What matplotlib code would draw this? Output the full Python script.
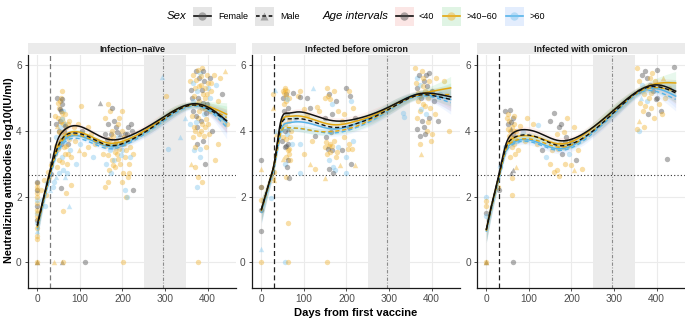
import numpy as np
import matplotlib
matplotlib.use("Agg")
import matplotlib.pyplot as plt
from matplotlib.patches import Rectangle
from matplotlib.lines import Line2D

plt.rcParams['font.family'] = ['Liberation Sans', 'DejaVu Sans']

# ---------------- data ----------------
panel_titles = ['Infection\u2212na\u00efve', 'Infected before omicron', 'Infected with omicron']
age_labels = ['<40', '>40\u221260', '>60']
sex_labels = ['Female', 'Male']
x_ticks = [0, 100, 200, 300, 400]
y_ticks = [0, 2, 4, 6]
second_dose_day = 30
omicron_day = 295
omicron_window = [250, 350]
threshold = 2.64

knot_days = [0, 10, 20, 30, 45, 60, 85, 120, 170, 220, 270, 320, 370, 410, 445]

# Infection-naive fitted curves
naive_F_lt40 = [1.15, 1.72, 2.27, 2.8, 3.62, 3.98, 4.15, 4.02, 3.73, 3.86, 4.2, 4.6, 4.82, 4.65, 4.3]
naive_F_40_60 = [1.1, 1.68, 2.22, 2.75, 3.45, 3.8, 3.97, 3.86, 3.62, 3.78, 4.15, 4.6, 4.8, 4.7, 4.5]
naive_F_gt60 = [1.05, 1.62, 2.15, 2.65, 3.33, 3.68, 3.85, 3.75, 3.52, 3.7, 4.1, 4.55, 4.78, 4.6, 4.25]
naive_M_lt40 = [1.1, 1.68, 2.22, 2.72, 3.4, 3.78, 3.93, 3.82, 3.55, 3.72, 4.1, 4.55, 4.78, 4.6, 4.3]
naive_M_40_60 = [1.05, 1.64, 2.18, 2.68, 3.35, 3.72, 3.88, 3.77, 3.55, 3.72, 4.1, 4.55, 4.78, 4.65, 4.4]
naive_M_gt60 = [1.0, 1.58, 2.1, 2.6, 3.25, 3.6, 3.77, 3.67, 3.45, 3.65, 4.05, 4.5, 4.75, 4.55, 4.1]

# Infected before omicron fitted curves
pre_F_lt40 = [1.6, 2.05, 2.5, 3.0, 4.25, 4.53, 4.57, 4.48, 4.3, 4.35, 4.55, 4.85, 5.12, 5.12, 5.03]
pre_F_40_60 = [1.6, 2.05, 2.5, 3.0, 4.15, 4.43, 4.45, 4.35, 4.18, 4.28, 4.5, 4.85, 5.1, 5.22, 5.3]
pre_F_gt60 = [1.55, 2.0, 2.45, 2.9, 3.95, 4.23, 4.27, 4.2, 4.05, 4.2, 4.48, 4.85, 5.1, 5.05, 4.95]
pre_M_lt40 = [1.6, 2.05, 2.5, 2.95, 4.1, 4.36, 4.37, 4.28, 4.1, 4.2, 4.45, 4.8, 5.08, 5.05, 4.95]
pre_M_40_60 = [1.55, 2.0, 2.45, 2.9, 3.9, 4.1, 4.08, 4.0, 3.98, 4.12, 4.42, 4.8, 5.08, 5.1, 5.1]
pre_M_gt60 = [1.5, 1.95, 2.4, 2.85, 3.85, 4.08, 4.07, 4.0, 3.93, 4.08, 4.38, 4.78, 5.05, 5.0, 4.85]

# Infected with omicron fitted curves
omi_F_lt40 = [1.0, 1.6, 2.15, 2.7, 3.55, 3.9, 4.03, 3.95, 3.7, 3.85, 4.3, 4.85, 5.3, 5.38, 5.2]
omi_F_40_60 = [1.0, 1.6, 2.12, 2.65, 3.45, 3.75, 3.85, 3.8, 3.6, 3.8, 4.3, 4.85, 5.3, 5.45, 5.45]
omi_F_gt60 = [0.95, 1.55, 2.08, 2.6, 3.35, 3.62, 3.73, 3.65, 3.45, 3.68, 4.2, 4.8, 5.25, 5.25, 5.05]
omi_M_lt40 = [1.0, 1.6, 2.12, 2.65, 3.45, 3.75, 3.87, 3.8, 3.55, 3.72, 4.2, 4.8, 5.28, 5.32, 5.15]
omi_M_40_60 = [0.95, 1.55, 2.08, 2.6, 3.38, 3.65, 3.75, 3.7, 3.5, 3.7, 4.22, 4.8, 5.25, 5.3, 5.2]
omi_M_gt60 = [0.95, 1.5, 2.05, 2.55, 3.3, 3.57, 3.68, 3.6, 3.4, 3.62, 4.15, 4.75, 5.2, 5.15, 4.95]

# confidence band half widths at the knots
band_naive = [0.3, 0.2, 0.14, 0.1, 0.08, 0.07, 0.07, 0.07, 0.07, 0.09, 0.13, 0.14, 0.1, 0.18, 0.35]
band_pre = [0.35, 0.25, 0.18, 0.12, 0.1, 0.09, 0.1, 0.1, 0.1, 0.12, 0.15, 0.15, 0.12, 0.2, 0.35]
band_omi = [0.35, 0.25, 0.18, 0.12, 0.1, 0.09, 0.1, 0.1, 0.1, 0.12, 0.16, 0.16, 0.12, 0.2, 0.35]

# observations: (day, log10 titre, group) ; k/o/b = <40 / 40-60 / >60, upper case = male
naive_points = [
    (0,0.72,'o'),(0,0.8,'o'),(0,0.95,'B'),(0,1.05,'o'),(0,1.2,'b'),(0,1.3,'k'),(0,1.4,'o'),(0,1.5,'b'),
    (0,1.6,'o'),(0,1.7,'k'),(0,1.8,'o'),(0,1.9,'b'),(0,2.0,'o'),(0,2.1,'o'),(0,2.2,'k'),(0,2.3,'o'),
    (0,2.4,'o'),(0,2.45,'k'),(0,1.35,'O'),(0,0,'O'),(0,0,'K'),(0,0,'o'),(0,1.55,'O'),(0,2.25,'O'),
    (8,2.2,'o'),(12,1.9,'b'),(15,2.5,'o'),(18,1.7,'b'),(20,2.05,'o'),(22,2.4,'b'),(25,2.75,'o'),(27,2.6,'o'),
    (29,2.2,'B'),(31,2.68,'k'),(33,2.95,'o'),(36,2.3,'b'),(40,2.45,'b'),(44,2.6,'B'),(56,2.25,'k'),(60,1.55,'o'),
    (67,2.1,'o'),(74,1.7,'B'),(78,2.35,'o'),(52,2.7,'b'),
    (40,0,'O'),(57,0,'K'),(61,0,'o'),(112,0,'k'),(201,0,'o'),(377,0,'o'),
    (41,3.3,'o'),(42,4.45,'o'),(43,3.8,'b'),(45,4.2,'k'),(46,2.9,'o'),(47,5.0,'k'),(48,3.6,'b'),(48,4.4,'o'),
    (50,3.1,'o'),(50,4.0,'k'),(51,4.7,'o'),(52,3.5,'b'),(53,4.3,'k'),(54,4.9,'o'),(55,3.9,'o'),(55,4.6,'k'),
    (56,5.0,'o'),(57,3.2,'b'),(57,4.4,'o'),(58,4.8,'k'),(58,5.2,'o'),(59,3.7,'O'),(60,4.2,'o'),(60,4.6,'b'),
    (61,2.8,'b'),(62,3.5,'o'),(63,4.0,'k'),(64,4.5,'o'),(65,3.3,'o'),(65,2.6,'B'),(66,3.8,'b'),(68,4.1,'o'),
    (70,3.0,'o'),(70,2.7,'b'),(72,3.6,'k'),(74,4.3,'o'),(76,3.4,'b'),(78,3.9,'o'),(80,3.2,'o'),(53,4.1,'b'),
    (56,3.6,'k'),(62,4.3,'O'),(66,4.2,'b'),(49,3.45,'o'),(58,3.05,'o'),(54,4.65,'k'),(57,4.95,'k'),(60,3.85,'b'),
    (44,3.55,'o'),(47,4.15,'O'),(51,3.95,'o'),(53,3.75,'K'),(55,4.25,'o'),(57,4.55,'o'),(59,4.35,'b'),(61,3.95,'o'),
    (63,3.65,'b'),(64,4.15,'k'),(67,3.55,'o'),(69,3.85,'b'),(71,4.2,'o'),(73,3.3,'o'),(75,3.75,'o'),(49,4.85,'o'),
    (85,4.1,'o'),(90,3.0,'b'),(95,4.2,'o'),(100,3.6,'b'),(103,4.75,'o'),(105,4.0,'k'),(110,3.3,'o'),(115,3.8,'b'),
    (120,3.5,'o'),(125,3.9,'o'),(130,3.2,'b'),(135,3.6,'o'),(140,3.7,'k'),(88,3.7,'o'),(98,3.4,'O'),(118,4.1,'o'),
    (147,4.85,'K'),(155,3.3,'o'),(158,3.9,'k'),(160,4.4,'o'),(162,3.0,'b'),(165,3.6,'o'),(166,4.8,'o'),(165,4.2,'k'),
    (168,2.8,'o'),(170,3.4,'b'),(170,4.6,'o'),(172,3.9,'k'),(175,3.1,'o'),(175,4.7,'k'),(176,4.0,'o'),(178,3.5,'b'),
    (180,4.3,'k'),(180,3.1,'b'),(182,2.9,'o'),(184,3.7,'o'),(185,4.1,'k'),(188,3.3,'o'),(190,3.8,'b'),(192,4.4,'o'),
    (195,3.0,'o'),(196,3.6,'k'),(198,4.0,'o'),(200,3.4,'b'),(200,4.6,'o'),(202,2.7,'o'),(205,3.9,'k'),(207,3.2,'o'),
    (210,3.7,'b'),(212,4.1,'k'),(215,3.0,'o'),(215,2.7,'o'),(218,3.5,'o'),(220,3.8,'b'),(222,4.0,'k'),(225,3.3,'o'),
    (160,2.3,'o'),(165,2.45,'o'),(172,2.7,'b'),(200,2.45,'o'),(205,2.2,'b'),(208,2.0,'o'),(210,2.0,'b'),(214,2.6,'o'),
    (225,2.2,'k'),(185,3.5,'O'),(195,3.9,'K'),(163,3.75,'k'),(190,3.15,'o'),(204,3.6,'o'),(170,3.75,'o'),(182,3.6,'k'),
    (167,3.25,'o'),(173,3.55,'b'),(177,3.85,'o'),(183,3.35,'o'),(187,3.95,'k'),(193,3.45,'o'),(197,3.25,'b'),(203,3.8,'o'),
    (209,3.4,'o'),(211,3.9,'k'),(217,3.2,'b'),(221,4.2,'k'),(158,3.55,'o'),(189,4.2,'o'),(199,3.65,'O'),(179,2.95,'o'),
    (292,5.62,'B'),(302,5.05,'o'),(307,3.45,'b'),(335,3.8,'B'),(346,4.4,'B'),
    (358,5.5,'o'),(360,4.2,'b'),(362,3.0,'O'),(363,5.0,'k'),(365,3.8,'o'),(366,5.7,'o'),(367,4.6,'k'),(368,3.4,'b'),
    (370,5.3,'o'),(370,2.9,'o'),(371,4.0,'o'),(372,5.8,'k'),(374,4.8,'o'),(375,3.6,'k'),(375,2.3,'b'),(376,5.2,'b'),
    (377,4.4,'o'),(378,2.6,'o'),(379,5.6,'k'),(380,3.9,'o'),(381,4.9,'o'),(382,3.2,'b'),(384,5.4,'o'),(385,4.3,'k'),
    (386,4.7,'o'),(387,5.9,'o'),(388,2.45,'o'),(389,3.7,'k'),(390,5.1,'o'),(391,4.5,'b'),(392,5.5,'k'),(394,4.1,'o'),
    (395,5.0,'o'),(395,3.0,'k'),(397,3.5,'o'),(398,5.7,'o'),(399,4.8,'k'),(400,4.2,'o'),(402,5.3,'b'),(404,3.9,'o'),
    (405,5.6,'k'),(407,4.6,'o'),(409,5.2,'o'),(411,4.0,'k'),(415,5.7,'o'),(418,3.1,'o'),(420,5.4,'b'),(425,4.9,'o'),
    (425,3.6,'o'),(430,5.6,'o'),(435,5.1,'k'),(440,5.8,'O'),(445,4.2,'o'),(383,5.75,'b'),(372,4.45,'k'),(396,4.35,'o'),
    (365,4.9,'b'),(380,5.35,'o'),(369,5.05,'o'),(376,4.1,'k'),(388,5.25,'k'),(393,4.65,'o'),(401,5.45,'o'),(384,4.0,'o'),
    (361,5.25,'k'),(364,4.45,'o'),(366,5.45,'b'),(368,4.1,'o'),(373,5.55,'o'),(374,4.25,'b'),(378,5.0,'k'),(381,4.6,'o'),
    (385,5.65,'o'),(387,4.2,'o'),(390,4.85,'k'),(392,3.85,'o'),(394,5.3,'o'),(397,4.55,'k'),(399,5.1,'o'),(403,4.7,'o'),
    (406,5.0,'b'),(408,5.45,'o'),(371,3.5,'o'),(383,3.45,'b'),(389,5.8,'k'),(377,5.85,'o'),
]

pre_points = [
    (0,2.3,'o'),(0,2.3,'k'),(0,1.9,'o'),(0,1.6,'k'),(0,0.95,'k'),(0,0.4,'B'),(0,0,'o'),(0,3.1,'k'),(0,2.85,'O'),
    (22,1.95,'b'),(27,2.55,'o'),(29,2.75,'o'),(30,2.5,'O'),(28,4.7,'O'),(28,5.1,'o'),(33,5.24,'B'),(35,3.9,'O'),(35,4.0,'B'),
    (50,5.2,'o'),(52,5.0,'k'),(54,4.8,'o'),(55,5.3,'o'),(57,5.1,'k'),(58,4.9,'o'),(60,5.2,'o'),(62,4.7,'k'),(64,5.0,'o'),
    (52,4.4,'b'),(56,4.2,'o'),(60,4.5,'k'),(65,4.3,'o'),(50,3.8,'o'),(55,3.5,'k'),(58,3.2,'o'),(60,3.9,'b'),(62,3.6,'k'),
    (65,3.3,'o'),(68,3.8,'o'),(55,3.0,'b'),(60,2.9,'k'),(63,3.1,'k'),(58,2.6,'o'),(66,2.55,'k'),(70,4.0,'o'),(72,3.6,'b'),
    (55,4.0,'k'),(48,3.7,'k'),(52,3.15,'O'),(56,5.24,'o'),(75,5.15,'k'),(62,4.05,'K'),(66,3.45,'o'),
    (53,5.15,'o'),(59,5.05,'o'),(61,4.95,'b'),(54,4.6,'k'),(57,3.75,'o'),(63,3.4,'o'),(59,3.55,'k'),(67,3.1,'o'),
    (85,5.05,'o'),(90,5.2,'o'),(91,5.03,'k'),(100,4.65,'o'),(107,5.0,'k'),(122,5.3,'B'),(115,4.7,'k'),(120,3.7,'o'),
    (125,3.85,'k'),(131,4.73,'o'),(107,4.48,'o'),(90,3.6,'b'),(100,3.3,'o'),(115,3.0,'O'),(125,2.85,'o'),(135,4.6,'o'),
    (80,4.4,'b'),(92,2.7,'b'),(62,1.2,'o'),(55,0,'b'),(62,0,'o'),(155,0,'o'),
    (150,5.0,'o'),(155,5.3,'o'),(160,5.1,'k'),(165,4.8,'b'),(170,5.2,'o'),(175,4.9,'k'),(200,5.3,'k'),(205,5.2,'o'),
    (210,4.9,'b'),(215,4.7,'o'),(150,4.4,'k'),(165,4.5,'k'),(180,4.6,'o'),(190,4.3,'o'),(195,4.5,'o'),(220,4.4,'k'),
    (150,3.5,'o'),(152,3.8,'k'),(155,3.3,'o'),(160,3.1,'b'),(162,3.6,'o'),(165,3.4,'k'),(168,2.9,'b'),(170,3.7,'o'),
    (175,3.2,'o'),(180,3.5,'b'),(185,2.95,'O'),(190,3.4,'k'),(195,3.8,'o'),(200,3.2,'b'),(205,3.6,'o'),(210,3.0,'k'),
    (212,3.45,'o'),(215,3.7,'b'),(220,2.95,'O'),(150,2.55,'O'),(158,2.85,'k'),(172,2.8,'b'),(168,2.7,'k'),(198,2.72,'b'),
    (163,3.95,'k'),(178,3.35,'o'),(205,4.1,'k'),(158,3.55,'o'),(153,3.65,'o'),(157,3.45,'k'),(161,3.35,'o'),(167,3.55,'o'),
    (157,5.05,'o'),(162,4.95,'o'),(208,5.05,'k'),(203,3.45,'o'),
    (333,4.53,'b'),(336,4.42,'b'),
    (362,5.9,'o'),(365,5.6,'b'),(367,5.3,'k'),(368,4.9,'o'),(370,5.7,'k'),(372,4.6,'o'),(373,5.4,'b'),(375,5.0,'k'),
    (377,4.3,'k'),(378,5.8,'o'),(380,4.8,'o'),(382,5.5,'k'),(383,4.1,'k'),(385,5.2,'o'),(386,4.5,'b'),(388,5.7,'k'),
    (390,4.0,'o'),(392,5.0,'o'),(393,4.4,'k'),(395,5.5,'o'),(397,4.7,'o'),(400,5.2,'k'),(402,3.9,'o'),(405,4.9,'k'),
    (408,4.5,'o'),(410,5.6,'o'),(415,4.3,'k'),(420,5.1,'b'),(430,5.5,'o'),(440,4.0,'o'),(375,3.3,'O'),(365,4.05,'k'),
    (372,3.6,'o'),(385,3.9,'k'),(398,3.7,'o'),(369,5.15,'o'),(381,5.35,'o'),(394,5.75,'k'),(376,4.65,'b'),
    (364,5.45,'o'),(371,5.05,'o'),(379,5.6,'o'),(384,4.75,'o'),(389,5.35,'k'),(366,4.4,'o'),(374,3.85,'k'),(391,4.25,'o'),
]

omi_points = [
    (0,2.0,'b'),(0,1.85,'o'),(0,1.7,'o'),(0,1.5,'k'),(0,1.4,'b'),(0,0,'o'),(0,0,'K'),(0,0,'O'),
    (28,2.3,'o'),(30,2.2,'k'),(32,2.9,'b'),
    (45,4.6,'k'),(48,4.4,'o'),(50,4.2,'k'),(52,4.5,'o'),(55,4.0,'o'),(56,4.64,'k'),(58,3.8,'o'),(60,4.1,'o'),
    (60,3.5,'o'),(62,4.4,'k'),(63,3.9,'k'),(65,3.6,'o'),(65,4.2,'o'),(68,3.3,'o'),(70,4.0,'o'),(72,3.7,'b'),
    (55,3.2,'o'),(50,3.7,'O'),(58,2.7,'K'),(62,2.8,'K'),(45,3.5,'b'),(75,3.4,'o'),(80,4.15,'o'),(85,3.95,'b'),
    (90,3.7,'o'),(60,2.55,'o'),(70,2.9,'O'),(96,4.4,'o'),(122,4.18,'b'),(53,4.3,'o'),(57,4.05,'K'),(66,4.45,'o'),
    (54,3.85,'o'),(59,4.25,'k'),(61,3.65,'o'),(64,4.0,'o'),(67,3.75,'o'),(51,4.05,'o'),
    (60,2.05,'o'),(62,0,'k'),
    (110,4.2,'o'),(120,3.6,'o'),(130,3.4,'k'),(140,3.2,'b'),(150,4.3,'k'),(160,4.55,'k'),(165,3.9,'o'),(170,4.1,'k'),
    (172,3.6,'o'),(175,4.2,'k'),(180,3.5,'o'),(182,3.95,'o'),(185,3.0,'o'),(188,3.8,'k'),(190,4.4,'o'),(195,3.3,'b'),
    (200,3.7,'k'),(205,2.8,'O'),(210,3.1,'k'),(215,3.4,'o'),(165,2.8,'o'),(170,2.62,'o'),(200,2.95,'o'),(225,2.85,'o'),
    (160,2.75,'o'),(205,4.1,'o'),(155,3.4,'o'),(150,3.0,'o'),(178,3.3,'k'),(192,3.55,'o'),(168,3.45,'o'),(185,3.65,'k'),
    (355,5.9,'o'),(358,5.5,'o'),(360,5.2,'k'),(362,4.85,'o'),(365,5.7,'k'),(367,5.4,'b'),(368,4.6,'o'),(370,5.1,'o'),
    (372,5.8,'k'),(375,5.3,'o'),(377,4.9,'b'),(378,5.6,'k'),(380,4.5,'k'),(382,5.0,'o'),(385,5.4,'k'),(387,4.7,'o'),
    (390,5.75,'o'),(392,5.2,'k'),(395,4.4,'o'),(397,5.5,'o'),(400,5.0,'k'),(402,5.85,'k'),(405,4.8,'o'),(408,5.35,'o'),
    (410,4.6,'k'),(415,5.6,'O'),(420,5.0,'o'),(358,4.3,'O'),(360,4.0,'b'),(355,4.05,'o'),(370,4.1,'o'),(440,5.95,'k'),
    (425,3.15,'k'),(430,5.3,'o'),(412,4.5,'o'),(364,5.0,'B'),(384,5.6,'o'),(398,4.95,'k'),(374,4.75,'o'),(388,5.15,'o'),
]

# ---------------- styling ----------------
age_line_colors = ['#111111', '#E3A60F', '#56B4E9']
age_point_colors = {'k': '#4A4A4A', 'o': '#F0B12E', 'b': '#7CC4EE'}
age_fill_colors = ['#F8766D', '#00BA38', '#619CFF']

def natural_spline(xk, yk, xs):
    xk = np.asarray(xk, float); yk = np.asarray(yk, float)
    n = len(xk); h = np.diff(xk)
    A = np.zeros((n, n)); r = np.zeros(n)
    A[0, 0] = 1; A[-1, -1] = 1
    for i in range(1, n - 1):
        A[i, i - 1] = h[i - 1]; A[i, i] = 2 * (h[i - 1] + h[i]); A[i, i + 1] = h[i]
        r[i] = 6 * ((yk[i + 1] - yk[i]) / h[i] - (yk[i] - yk[i - 1]) / h[i - 1])
    M = np.linalg.solve(A, r)
    idx = np.clip(np.searchsorted(xk, xs) - 1, 0, n - 2)
    x0 = xk[idx]; x1 = xk[idx + 1]; hh = x1 - x0
    a = (x1 - xs) / hh; b = (xs - x0) / hh
    return (a * yk[idx] + b * yk[idx + 1] +
            ((a ** 3 - a) * M[idx] + (b ** 3 - b) * M[idx + 1]) * hh ** 2 / 6)

panels = [
    (naive_points, [naive_F_lt40, naive_F_40_60, naive_F_gt60], [naive_M_lt40, naive_M_40_60, naive_M_gt60], band_naive, '#7A7A7A'),
    (pre_points, [pre_F_lt40, pre_F_40_60, pre_F_gt60], [pre_M_lt40, pre_M_40_60, pre_M_gt60], band_pre, '#222222'),
    (omi_points, [omi_F_lt40, omi_F_40_60, omi_F_gt60], [omi_M_lt40, omi_M_40_60, omi_M_gt60], band_omi, '#222222'),
]

W, H = 685, 322
fig = plt.figure(figsize=(W / 100, H / 100), dpi=100)
fig.patch.set_facecolor('white')

lefts = [28, 252, 477]
pw = 208
top, bottom = 55, 288
xs = np.linspace(0, 445, 400)

for p, (pts, fcurves, mcurves, band, vcol) in enumerate(panels):
    ax = fig.add_axes([lefts[p] / W, (H - bottom) / H, pw / W, (bottom - top) / H])
    ax.set_xlim(-22, 467)
    ax.set_ylim(-0.78, 6.3)
    ax.set_xticks(x_ticks)
    ax.set_yticks(y_ticks)
    ax.grid(True, color='#EBEBEB', linewidth=0.8, zorder=0)
    ax.set_axisbelow(True)
    for s in ['top', 'right']:
        ax.spines[s].set_visible(False)
    for s in ['left', 'bottom']:
        ax.spines[s].set_color('#1A1A1A'); ax.spines[s].set_linewidth(0.9)
    ax.tick_params(axis='both', length=2.5, width=0.6, color='#333333', labelsize=7.3,
                   labelcolor='#4D4D4D', pad=2)

    ax.axvspan(omicron_window[0], omicron_window[1], color='#EBEBEB', zorder=0.5, lw=0)
    ax.axvline(second_dose_day, color=vcol, ls=(0, (4, 2.5)), lw=0.9, zorder=1)
    ax.axvline(omicron_day, color='#8C8C8C', ls=(0, (3, 1.5, 0.8, 1.5)), lw=0.8, zorder=1)
    ax.axhline(threshold, color='#333333', ls=(0, (1, 2)), lw=0.8, zorder=1)

    # points
    for day, val, g in pts:
        marker = '^' if g.isupper() else 'o'
        ax.scatter(day, val, s=15, marker=marker, color=age_point_colors[g.lower()],
                   alpha=0.42, linewidths=0, zorder=2)

    # ribbons
    bw = natural_spline(knot_days, band, xs)
    for a in range(3):
        for curves in (fcurves, mcurves):
            ys = natural_spline(knot_days, curves[a], xs)
            ax.fill_between(xs, ys - bw, ys + bw, color=age_fill_colors[a], alpha=0.09, lw=0, zorder=3)
    # lines
    for a in [2, 1, 0]:
        ys = natural_spline(knot_days, mcurves[a], xs)
        ax.plot(xs, ys, color=age_line_colors[a], lw=1.0, ls=(0, (3, 2)), zorder=4)
        ys = natural_spline(knot_days, fcurves[a], xs)
        ax.plot(xs, ys, color=age_line_colors[a], lw=1.1, zorder=4)

    # strip
    sax = fig.add_axes([lefts[p] / W, (H - 54) / H, pw / W, 11 / H])
    sax.set_facecolor('#EBEBEB')
    sax.set_xticks([]); sax.set_yticks([])
    for s in sax.spines.values():
        s.set_visible(False)
    sax.text(0.5, 0.45, panel_titles[p], ha='center', va='center', fontsize=6.5,
             fontweight='bold', color='#1A1A1A', transform=sax.transAxes)

fig.text(356 / W, 1 - 313 / H, 'Days from first vaccine', ha='center', va='center',
         fontsize=8, fontweight='bold')
fig.text(9 / W, 1 - 170 / H, 'Neutralizing antibodies log10(IU/ml)', ha='center', va='center',
         rotation=90, fontsize=7.8, fontweight='bold')

# legend (pixel coordinates overlay)
lax = fig.add_axes([0, 0, 1, 1], zorder=5)
lax.set_xlim(0, W); lax.set_ylim(H, 0)
lax.axis('off')
ly = 16
lax.text(167, ly, 'Sex', fontsize=8.2, style='italic', va='center', ha='left')
key_w = 19
sex_keys = [(193, 'solid', 'o', 'Female', 218), (255, (0, (2.2, 1.6)), '^', 'Male', 280)]
for x0, ls, mk, lab, tx in sex_keys:
    lax.add_patch(Rectangle((x0, ly - 9.5), key_w, 19, facecolor='#E5E5E5', edgecolor='none'))
    lax.add_line(Line2D([x0 + 1, x0 + key_w - 1], [ly, ly], color='#111111', lw=1.2, ls=ls))
    lax.plot([x0 + key_w / 2], [ly], marker=mk, ms=6, color='#555555', alpha=0.45, mec='none')
    lax.text(tx, ly, lab, fontsize=6.5, va='center', ha='left')
lax.text(323, ly, 'Age intervals', fontsize=8.2, style='italic', va='center', ha='left')
age_key_x = [395, 442, 505]
age_text_x = [419, 467, 530]
age_key_bg = ['#FBE6E5', '#E0F4E4', '#E3EDFD']
for a in range(3):
    x0 = age_key_x[a]
    lax.add_patch(Rectangle((x0, ly - 9.5), key_w, 19, facecolor=age_key_bg[a], edgecolor='none'))
    lax.add_line(Line2D([x0 + 1, x0 + key_w - 1], [ly, ly], color=age_line_colors[a], lw=1.2))
    lax.plot([x0 + key_w / 2], [ly], marker='o', ms=6, color=age_point_colors['kob'[a]],
             alpha=0.45, mec='none')
    lax.text(age_text_x[a], ly, age_labels[a], fontsize=6.5, va='center', ha='left')

fig.savefig('out.png', dpi=100)
